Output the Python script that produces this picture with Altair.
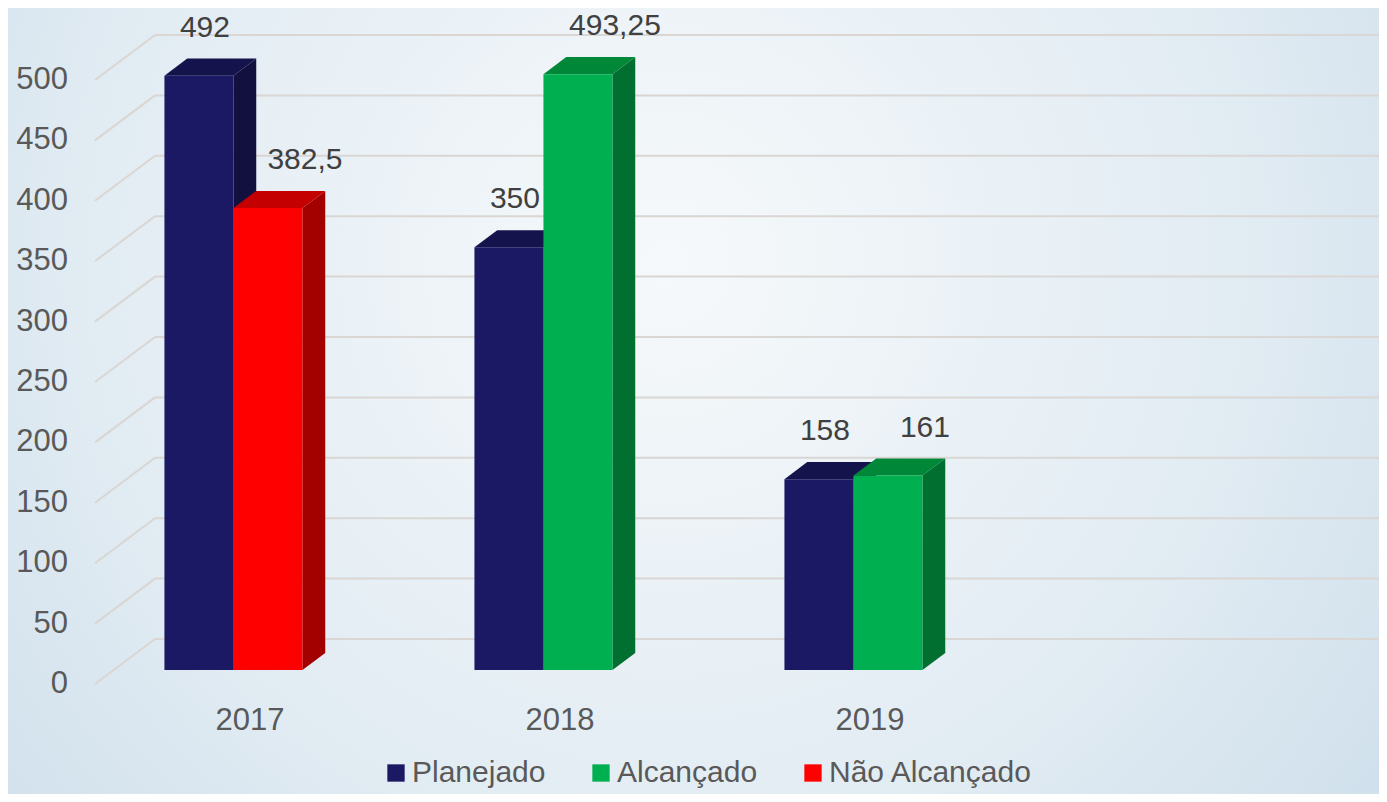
import altair as alt
import pandas as pd

# ---------------- data ----------------
anos = ["2017", "2018", "2019"]
series = ["Planejado", "Alcançado", "Não Alcançado"]
planejado = [492, 350, 158]
alcancado = [None, 493.25, 161]
nao_alcancado = [382.5, None, None]
ticks_y = [0, 50, 100, 150, 200, 250, 300, 350, 400, 450, 500]

front_colors = ["#1b1864", "#00b050", "#ff0000"]
side_colors = {"Planejado": "#12103f", "Alcançado": "#006f2f", "Não Alcançado": "#a30000"}
top_colors = {"Planejado": "#15134c", "Alcançado": "#008838", "Não Alcançado": "#c40000"}

# ---------------- layout constants ----------------
PLOT_W, PLOT_H = 1284, 604
SLOT_PX = 310.0
X_MAX = PLOT_W / SLOT_PX          # x scale in category-slot units
PX_X = 1 / SLOT_PX                # one pixel in x units
PX_Y = 500 / PLOT_H               # one pixel in y units
DEPTH_X = 60 * PX_X               # full depth of the 3D box
DEPTH_Y = 45 * PX_Y
BAR_D0, BAR_DD = 0.31, 0.38       # bar depth (fraction of full depth)
BAR_LEFT = 0.164
BAR_W = 69 * PX_X


def fmt(v):
    return f"{v:g}".replace(".", ",")


front_rows, side_rows, top_rows = [], [], []
for i, ano in enumerate(anos):
    pair = [("Planejado", planejado[i])]
    if alcancado[i] is not None:
        pair.append(("Alcançado", alcancado[i]))
    if nao_alcancado[i] is not None:
        pair.append(("Não Alcançado", nao_alcancado[i]))
    for k, (serie, v) in enumerate(pair):
        bid = f"{i}-{k}"
        dx0, dy0 = BAR_D0 * DEPTH_X, BAR_D0 * DEPTH_Y
        dx1, dy1 = (BAR_D0 + BAR_DD) * DEPTH_X, (BAR_D0 + BAR_DD) * DEPTH_Y
        xl = i + BAR_LEFT + k * BAR_W
        xr = xl + BAR_W
        shift = (6 if k == 0 else 37) * PX_X
        front_rows.append(dict(serie=serie, x=xl + dx0, x2=xr + dx0, y=dy0, y2=v + dy0,
                               label=fmt(v), lx=(xl + xr) / 2 + dx0 + shift, ly=v + dy0))
        side_rows += [
            dict(bar=bid, fill=side_colors[serie], x=xr + dx0, y=v + dy0, y2=dy0),
            dict(bar=bid, fill=side_colors[serie], x=xr + dx1, y=v + dy1, y2=dy1),
        ]
        top_rows += [
            dict(bar=bid, fill=top_colors[serie], y=v + dy0, x=xl + dx0, x2=xr + dx0),
            dict(bar=bid, fill=top_colors[serie], y=v + dy1, x=xl + dx1, x2=xr + dx1),
        ]

front_df = pd.DataFrame(front_rows)
side_df = pd.DataFrame(side_rows)
top_df = pd.DataFrame(top_rows)
grid_df = pd.DataFrame({"v": ticks_y})
grid_df["vb"] = grid_df["v"] + DEPTH_Y
grid_df["x0"] = 0.0
grid_df["xb"] = DEPTH_X
grid_df["xe"] = X_MAX
grid_df["lbl"] = [str(t) for t in ticks_y]
year_df = pd.DataFrame({"ano": anos, "x": [i + 0.5 for i in range(len(anos))], "y": 0})

xs = alt.Scale(domain=[0, X_MAX], nice=False, zero=False)
ys = alt.Scale(domain=[0, 500], nice=False, zero=False)

FONT = "Liberation Sans"

bg = alt.Chart(pd.DataFrame({"a": [0]})).mark_rect(
    fill={
        "gradient": "radial",
        "stops": [
            {"offset": 0, "color": "#f6f9fb"},
            {"offset": 0.55, "color": "#e2ecf3"},
            {"offset": 1, "color": "#c8dbe9"},
        ],
        "x1": 0.48, "y1": 0.4, "r1": 0, "x2": 0.48, "y2": 0.4, "r2": 0.75,
    }
).encode(
    x=alt.value(-87), x2=alt.value(PLOT_W), y=alt.value(-72), y2=alt.value(PLOT_H + 110)
)

grid_diag = alt.Chart(grid_df).mark_rule(color="#d9d6d3", strokeWidth=2).encode(
    x=alt.X("x0:Q", scale=xs, axis=None),
    x2="xb:Q",
    y=alt.Y("v:Q", scale=ys, axis=None),
    y2="vb:Q",
)
grid_back = alt.Chart(grid_df).mark_rule(color="#d9d6d3", strokeWidth=2).encode(
    x=alt.X("xb:Q", scale=xs, axis=None),
    x2="xe:Q",
    y=alt.Y("vb:Q", scale=ys, axis=None),
)
ylabels = alt.Chart(grid_df).mark_text(
    fontSize=31, color="#595959", font=FONT, align="right", baseline="middle", dx=-27
).encode(
    x=alt.X("x0:Q", scale=xs, axis=None),
    y=alt.Y("v:Q", scale=ys, axis=None),
    text="lbl:N",
)

sides = alt.Chart(side_df).mark_area(orient="vertical").encode(
    x=alt.X("x:Q", scale=xs, axis=None),
    y=alt.Y("y:Q", scale=ys, axis=None, stack=None),
    y2="y2:Q",
    fill=alt.Fill("fill:N", scale=None),
    detail="bar:N",
)
tops = alt.Chart(top_df).mark_area(orient="horizontal").encode(
    y=alt.Y("y:Q", scale=ys, axis=None),
    x=alt.X("x:Q", scale=xs, axis=None, stack=None),
    x2="x2:Q",
    fill=alt.Fill("fill:N", scale=None),
    detail="bar:N",
)
fronts = alt.Chart(front_df).mark_rect().encode(
    x=alt.X("x:Q", scale=xs, axis=None),
    x2="x2:Q",
    y=alt.Y("y:Q", scale=ys, axis=None),
    y2="y2:Q",
    color=alt.Color("serie:N", scale=alt.Scale(domain=series, range=front_colors),
                    legend=alt.Legend(
                        title=None, orient="none", direction="horizontal",
                        legendX=286, legendY=678,
                        symbolType="square", symbolSize=300, symbolStrokeWidth=0,
                        symbolOpacity=1,
                        labelFontSize=30, labelColor="#595959", labelFont=FONT,
                        labelOffset=1, columnPadding=40, labelLimit=400)),
)
labels = alt.Chart(front_df).mark_text(
    fontSize=30, color="#404040", font=FONT, baseline="alphabetic", align="center", dy=-39
).encode(
    x=alt.X("lx:Q", scale=xs, axis=None),
    y=alt.Y("ly:Q", scale=ys, axis=None),
    text="label:N",
)
years = alt.Chart(year_df).mark_text(
    fontSize=31, color="#595959", font=FONT, baseline="middle", align="center", dy=37
).encode(
    x=alt.X("x:Q", scale=xs, axis=None),
    y=alt.Y("y:Q", scale=ys, axis=None),
    text="ano:N",
)

chart = alt.layer(bg, grid_diag, grid_back, ylabels, sides, tops, fronts, labels, years).properties(
    width=PLOT_W, height=PLOT_H,
    autosize=alt.AutoSizeParams(type="none"),
    padding={"left": 87, "top": 72, "right": 0, "bottom": 110},
).configure(font=FONT, background="#d3e3ee").configure_view(stroke=None)

chart.save("out.html", embed_options={"renderer": "svg", "actions": False})
